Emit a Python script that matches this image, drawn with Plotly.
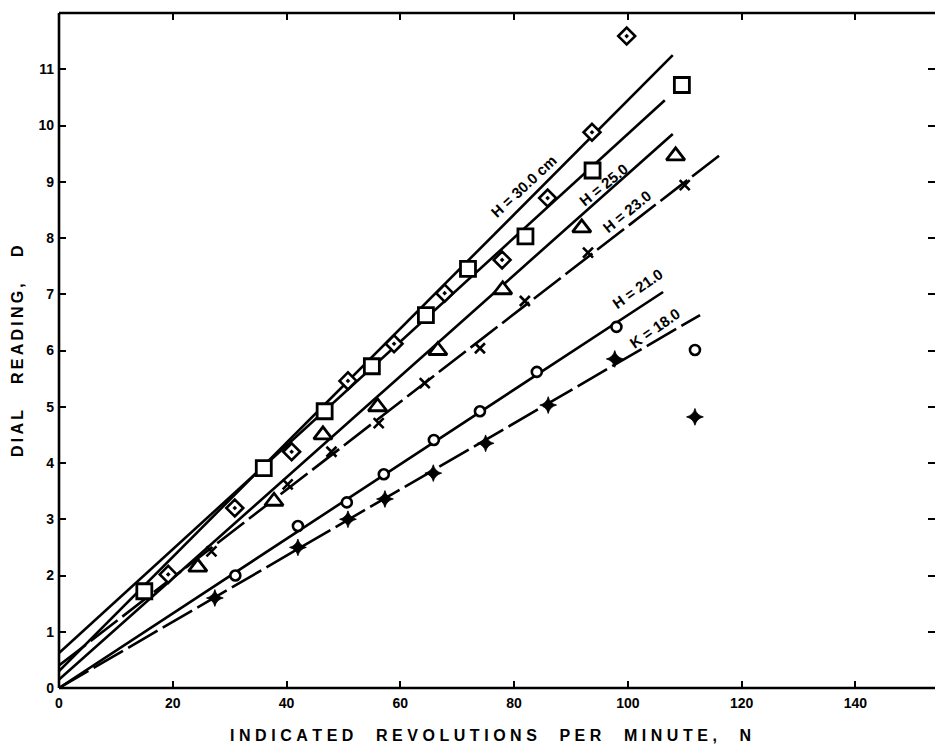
import plotly.graph_objects as go

# Measured dial readings D against indicated speed N for each setting
n_h300 = [19.2, 30.9, 40.9, 50.8, 58.9, 67.8, 77.9, 85.9, 93.7, 99.8]
d_h300 = [2.02, 3.20, 4.20, 5.46, 6.12, 7.02, 7.61, 8.71, 9.88, 11.59]

n_sq = [15.0, 36.0, 46.7, 55.0, 64.5, 71.9, 82.0, 93.8, 109.5]
d_sq = [1.72, 3.91, 4.92, 5.72, 6.63, 7.45, 8.03, 9.20, 10.72]

n_h250 = [24.4, 37.8, 46.4, 56.0, 66.6, 78.0, 91.9, 108.4]
d_h250 = [2.15, 3.32, 4.50, 5.00, 6.00, 7.08, 8.18, 9.46]

n_h230 = [26.8, 40.2, 47.9, 56.2, 64.3, 74.0, 81.9, 93.0, 110.0]
d_h230 = [2.43, 3.62, 4.20, 4.71, 5.42, 6.04, 6.88, 7.74, 8.94]

n_h210 = [31.0, 42.0, 50.6, 57.1, 65.9, 74.0, 84.0, 98.0, 111.8]
d_h210 = [2.00, 2.88, 3.30, 3.80, 4.41, 4.92, 5.62, 6.42, 6.01]

n_k180 = [27.4, 42.0, 50.8, 57.3, 65.8, 75.0, 86.0, 97.7, 111.8]
d_k180 = [1.60, 2.50, 3.00, 3.36, 3.82, 4.35, 5.03, 5.85, 4.82]

# Straight-line fits drawn through each set: (N start, N end), (D start, D end)
fit_h300 = ([0, 107.9], [0.30, 11.25])
fit_sq = ([0, 106.5], [0.62, 10.45])
fit_h250 = ([0, 107.9], [0.15, 9.85])
fit_h230 = ([0, 116.5], [0.40, 9.50])
fit_h210 = ([0, 106.2], [0.00, 7.04])
fit_k180 = ([0, 112.7], [0.00, 6.63])

# Curve labels: text, N, D, angle
curve_labels = [
    ("H = 30.0 cm", 81.6, 8.92, -43),
    ("H = 25.0", 95.8, 8.95, -39),
    ("H = 23.0", 99.8, 8.48, -39),
    ("H = 21.0", 101.7, 7.10, -35),
    ("K = 18.0", 104.6, 6.40, -35),
]

x_ticks = [0, 20, 40, 60, 80, 100, 120, 140]
y_ticks = [0, 1, 2, 3, 4, 5, 6, 7, 8, 9, 10, 11]

X_RANGE = [0, 154]
Y_RANGE = [0, 12]

INK = "black"
FONT = "Liberation Sans"

fig = go.Figure()

def add_fit(fit, dash="solid"):
    fig.add_trace(go.Scatter(
        x=fit[0], y=fit[1], mode="lines",
        line=dict(color=INK, width=2.6, dash=dash),
        hoverinfo="skip", showlegend=False,
    ))

add_fit(fit_h300)
add_fit(fit_sq)
add_fit(fit_h250)
add_fit(fit_h230, dash="34px,6px")
add_fit(fit_h210)
add_fit(fit_k180, dash="34px,6px")

def add_points(xs, ys, symbol, size, fill, lw=2.2):
    fig.add_trace(go.Scatter(
        x=xs, y=ys, mode="markers",
        marker=dict(symbol=symbol, size=size, color=fill,
                    line=dict(color=INK, width=lw)),
        showlegend=False,
    ))

# white-filled outlines break the fitted lines where a point sits on them
add_points(n_h300, d_h300, "diamond-dot", 13, "white", 2.6)
add_points(n_sq, d_sq, "square", 15, "white", 2.8)
add_points(n_h250, d_h250, "triangle-up", 16, "white", 2.8)
add_points(n_h230, d_h230, "x-thin-open", 10, INK, 2.6)
add_points(n_h210, d_h210, "circle", 10, "white", 2.6)
add_points(n_k180, d_k180, "star-diamond", 12, INK, 0.8)

for text, nx, dy, ang in curve_labels:
    fig.add_annotation(
        x=nx, y=dy, xref="x", yref="y", text=f"<b>{text}</b>",
        showarrow=False, textangle=ang,
        font=dict(family=FONT, size=15, color=INK),
    )

def spaced(s, gap):
    return gap.join(list(s))

fig.add_annotation(
    x=-42 / 876, y=(688 - 352) / 675, xref="paper", yref="paper",
    text="<b>" + spaced("DIAL   READING,   D", "\u2009") + "</b>",
    showarrow=False, textangle=-90, xanchor="center", yanchor="middle",
    font=dict(family=FONT, size=16, color=INK),
)
fig.add_annotation(
    x=(490 - 59) / 876, y=-(735 - 688) / 675, xref="paper", yref="paper",
    text="<b>" + spaced("INDICATED  REVOLUTIONS  PER  MINUTE,  N", "\u2009\u200a") + "</b>",
    showarrow=False, xanchor="center", yanchor="middle",
    font=dict(family=FONT, size=16, color=INK),
)

# Frame: left, bottom and top borders
for x0, y0, x1, y1 in [(0, 0, 0, 1), (0, 0, 1, 0), (0, 1, 1, 1)]:
    fig.add_shape(type="line", xref="paper", yref="paper",
                  x0=x0, y0=y0, x1=x1, y1=y1,
                  line=dict(color=INK, width=2.6))

axis_common = dict(
    ticks="inside", ticklen=7, tickwidth=2.2, tickcolor=INK,
    showline=False, mirror="ticks", showgrid=False, zeroline=False,
    tickfont=dict(family=FONT, size=14, color=INK),
)

fig.update_xaxes(range=X_RANGE, tickvals=x_ticks,
                 ticktext=[f"<b>{v}</b>" for v in x_ticks],
                 ticklabelstandoff=5, **axis_common)
fig.update_yaxes(range=Y_RANGE, tickvals=y_ticks,
                 ticktext=[f"<b>{v}</b>" for v in y_ticks],
                 ticklabelstandoff=4, **axis_common)

fig.update_layout(
    width=935, height=748,
    margin=dict(l=59, r=0, t=13, b=60),
    paper_bgcolor="white", plot_bgcolor="white",
    showlegend=False,
)

fig.write_html("out.html")
